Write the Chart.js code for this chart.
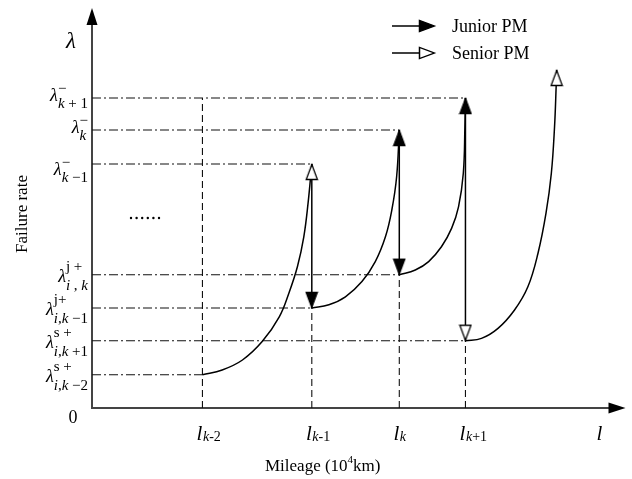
<!DOCTYPE html>
<html>
<head>
<meta charset="utf-8">
<script src="https://cdn.jsdelivr.net/npm/chart.js@4.4.0/dist/chart.umd.min.js"></script>
<style>
  html, body { margin: 0; padding: 0; background: #fff; }
  #wrap { width: 632px; height: 479px; position: relative; }
</style>
</head>
<body>
<div id="wrap"><canvas id="chart"></canvas></div>
<script>
// mileage of the PM stops: l_{k-2}, l_{k-1}, l_k, l_{k+1}
const stopX = [2.07, 4.12, 5.76, 7.00];
const stopSub = ['k-2', 'k-1', 'k', 'k+1'];

// failure rate just before PM at l_{k-1}, l_k, l_{k+1}
const peakY = [6.10, 6.95, 7.75];
const peakSub = ['k \u22121', 'k', 'k + 1'];

// failure rate just after PM at l_{k-2} .. l_{k+1}
const afterY = [0.83, 2.50, 3.33, 1.68];
const afterSup = ['s +', 'j+', 'j +', 's +'];
const afterSub = ['i,k \u22122', 'i,k \u22121', 'i , k', 'i,k +1'];

// arrow head type at the top / bottom of each PM drop (stops 1..3)
const pmTop = ['senior', 'junior', 'junior'];
const pmBottom = ['junior', 'junior', 'senior'];

// failure rate growth between stops
const seg1X = [2.07, 2.44, 2.82, 3.19, 3.51, 3.69, 3.85, 3.97, 4.05, 4.12];
const seg1Y = [0.83, 0.95, 1.20, 1.66, 2.28, 2.87, 3.53, 4.28, 5.12, 6.10];
const seg2X = [4.12, 4.44, 4.75, 5.06, 5.31, 5.50, 5.62, 5.71, 5.76];
const seg2Y = [2.50, 2.58, 2.78, 3.16, 3.66, 4.28, 4.95, 5.78, 6.95];
const seg3X = [5.76, 6.06, 6.31, 6.55, 6.74, 6.87, 6.96, 6.99, 7.00];
const seg3Y = [3.33, 3.45, 3.66, 4.03, 4.49, 5.03, 5.87, 7.03, 7.75];
const seg4X = [7.00, 7.30, 7.61, 7.92, 8.17, 8.36, 8.51, 8.61, 8.67, 8.70, 8.71];
const seg4Y = [1.68, 1.74, 1.99, 2.45, 3.03, 3.87, 4.87, 5.87, 7.03, 8.03, 8.45];

const SERIF = '"Liberation Serif", "Times New Roman", serif';

function makeHead(filled) {
    const c = document.createElement('canvas');
    c.width = 14;
    c.height = 34;
    const g = c.getContext('2d');
    g.beginPath();
    g.moveTo(7, 17.5);
    g.lineTo(12.6, 32.5);
    g.lineTo(1.4, 32.5);
    g.closePath();
    g.fillStyle = filled ? '#000' : '#fff';
    g.fill();
    g.lineWidth = 1.3;
    g.strokeStyle = '#000';
    g.stroke();
    return c;
}
const heads = { junior: makeHead(true), senior: makeHead(false) };

const zip = (xs, ys) => xs.map((x, i) => ({ x: x, y: ys[i] }));

const datasets = [];

// guide lines
const dashDot = [9, 3, 2, 3];
const guide = (pts, dash) => ({
    data: pts, borderColor: '#111', borderWidth: 1.1, borderDash: dash,
    pointRadius: 0, fill: false, order: 3
});
peakY.forEach((y, i) => datasets.push(guide([{ x: 0, y: y }, { x: stopX[i + 1], y: y }], dashDot)));
afterY.forEach((y, i) => datasets.push(guide([{ x: 0, y: y }, { x: stopX[i], y: y }], dashDot)));
stopX.forEach((x, i) => {
    const top = i === 0 ? peakY[2] : afterY[i];
    datasets.push(guide([{ x: x, y: 0 }, { x: x, y: top }], [7, 4]));
});

// degradation curves
[[seg1X, seg1Y], [seg2X, seg2Y], [seg3X, seg3Y], [seg4X, seg4Y]].forEach((s, k) => {
    const n = s[0].length;
    datasets.push({
        data: zip(s[0], s[1]),
        borderColor: '#000', borderWidth: 1.5, fill: false,
        tension: 0.4,
        pointRadius: s[0].map((v, i) => (k === 3 && i === n - 1) ? 5 : 0),
        pointStyle: heads.senior,
        order: 2
    });
});

// PM drops
for (let i = 1; i < stopX.length; i++) {
    datasets.push({
        data: [{ x: stopX[i], y: peakY[i - 1] }, { x: stopX[i], y: afterY[i] }],
        borderColor: '#000', borderWidth: 1.5, fill: false,
        pointRadius: 5,
        pointStyle: [heads[pmTop[i - 1]], heads[pmBottom[i - 1]]],
        pointRotation: [0, 180],
        order: 1
    });
}

// text with italic letters (optional) and upright digits / signs
function drawMath(ctx, str, x, y, size, upright) {
    let cx = x;
    for (const ch of str) {
        const it = !upright && /[A-Za-z\u03bb]/.test(ch);
        ctx.font = (it ? 'italic ' : '') + size + 'px ' + SERIF;
        ctx.fillText(ch, cx, y);
        cx += ctx.measureText(ch).width;
    }
    return cx - x;
}
function mathWidth(ctx, str, size, upright) {
    let w = 0;
    for (const ch of str) {
        const it = !upright && /[A-Za-z\u03bb]/.test(ch);
        ctx.font = (it ? 'italic ' : '') + size + 'px ' + SERIF;
        w += ctx.measureText(ch).width;
    }
    return w;
}
function drawLambda(ctx, right, y, sup, sub, dl, ds, db) {
    const wl = mathWidth(ctx, '\u03bb', 18);
    const w = wl + Math.max(mathWidth(ctx, sup, 15, true), mathWidth(ctx, sub, 15));
    const x0 = right - w;
    drawMath(ctx, '\u03bb', x0, y + dl, 18);
    drawMath(ctx, sup, x0 + wl, y + ds, 15, true);
    drawMath(ctx, sub, x0 + wl, y + db, 15);
}

const annot = {
    id: 'annot',
    beforeDatasetsDraw(chart) {
        const ctx = chart.ctx;
        const { left, right, top, bottom } = chart.chartArea;
        ctx.save();
        ctx.strokeStyle = '#444';
        ctx.lineWidth = 2;
        ctx.beginPath();
        ctx.moveTo(left, bottom);
        ctx.lineTo(left, top + 12);
        ctx.moveTo(left - 1, bottom);
        ctx.lineTo(right - 12, bottom);
        ctx.stroke();
        ctx.fillStyle = '#000';
        ctx.beginPath();
        ctx.moveTo(left, top);
        ctx.lineTo(left + 5.5, top + 17);
        ctx.lineTo(left - 5.5, top + 17);
        ctx.closePath();
        ctx.fill();
        ctx.beginPath();
        ctx.moveTo(right, bottom);
        ctx.lineTo(right - 17, bottom - 5.5);
        ctx.lineTo(right - 17, bottom + 5.5);
        ctx.closePath();
        ctx.fill();
        ctx.restore();
    },
    afterDraw(chart) {
        const ctx = chart.ctx;
        const xs = chart.scales.x, ys = chart.scales.y;
        const { left, right, bottom } = chart.chartArea;
        ctx.save();
        ctx.fillStyle = '#000';
        ctx.textBaseline = 'alphabetic';
        ctx.textAlign = 'left';

        // y labels
        peakY.forEach((v, i) => {
            const py = ys.getPixelForValue(v);
            const shift = i === 0 ? 8 : 0;
            drawLambda(ctx, left - 4, py + shift, '\u2212', peakSub[i], 3, -5, 10);
        });
        afterY.forEach((v, i) => {
            const py = ys.getPixelForValue(v);
            drawLambda(ctx, left - 4, py, afterSup[i], afterSub[i], 7, -4, 15);
        });

        // x labels
        stopX.forEach((v, i) => {
            const px = xs.getPixelForValue(v);
            ctx.font = 'italic 21px ' + SERIF;
            const wl = ctx.measureText('l').width;
            ctx.fillText('l', px - wl, bottom + 32);
            let cx = px + 0.5;
            for (const ch of stopSub[i]) {
                ctx.font = (/[a-z]/.test(ch) ? 'italic ' : '') + '14px ' + SERIF;
                ctx.fillText(ch, cx, bottom + 33);
                cx += ctx.measureText(ch).width;
            }
        });
        ctx.font = 'italic 21px ' + SERIF;
        ctx.fillText('l', right - 29, bottom + 32);

        ctx.font = '18px ' + SERIF;
        ctx.textAlign = 'center';
        ctx.fillText('0', left - 19, bottom + 15);
        ctx.textAlign = 'left';

        ctx.font = 'italic 23px ' + SERIF;
        ctx.fillText('\u03bb', left - 26, 48);

        // axis titles
        ctx.font = '17px ' + SERIF;
        let tx = 265;
        ctx.fillText('Mileage (10', tx, bottom + 63);
        tx += ctx.measureText('Mileage (10').width;
        ctx.font = '11px ' + SERIF;
        ctx.fillText('4', tx, bottom + 55);
        tx += ctx.measureText('4').width;
        ctx.font = '17px ' + SERIF;
        ctx.fillText('km)', tx, bottom + 63);

        ctx.save();
        ctx.translate(27, 214);
        ctx.rotate(-Math.PI / 2);
        ctx.textAlign = 'center';
        ctx.font = '17px ' + SERIF;
        ctx.fillText('Failure rate', 0, 0);
        ctx.restore();

        // dots
        for (let d = 0; d < 6; d++) {
            ctx.beginPath();
            ctx.arc(131 + d * 5.6, 218, 1.2, 0, Math.PI * 2);
            ctx.fill();
        }

        // legend
        const items = [['junior', 'Junior PM', 26], ['senior', 'Senior PM', 53]];
        items.forEach(it => {
            ctx.strokeStyle = '#000';
            ctx.lineWidth = 1.5;
            ctx.beginPath();
            ctx.moveTo(392, it[2]);
            ctx.lineTo(425, it[2]);
            ctx.stroke();
            ctx.save();
            ctx.translate(435, it[2]);
            ctx.rotate(Math.PI / 2);
            ctx.drawImage(heads[it[0]], -7, -17);
            ctx.restore();
            ctx.font = '18px ' + SERIF;
            ctx.fillText(it[1], 452, it[2] + 6);
        });
        ctx.restore();
    }
};

new Chart(document.getElementById('chart'), {
    type: 'line',
    data: { datasets: datasets },
    options: {
        responsive: true,
        maintainAspectRatio: false,
        animation: false,
        events: [],
        layout: { padding: { left: 92, right: 4, top: 8, bottom: 71 } },
        scales: {
            x: { type: 'linear', min: 0, max: 10, display: false },
            y: { type: 'linear', min: 0, max: 10, display: false }
        },
        plugins: { legend: { display: false }, tooltip: { enabled: false } }
    },
    plugins: [annot]
});
</script>
</body>
</html>
